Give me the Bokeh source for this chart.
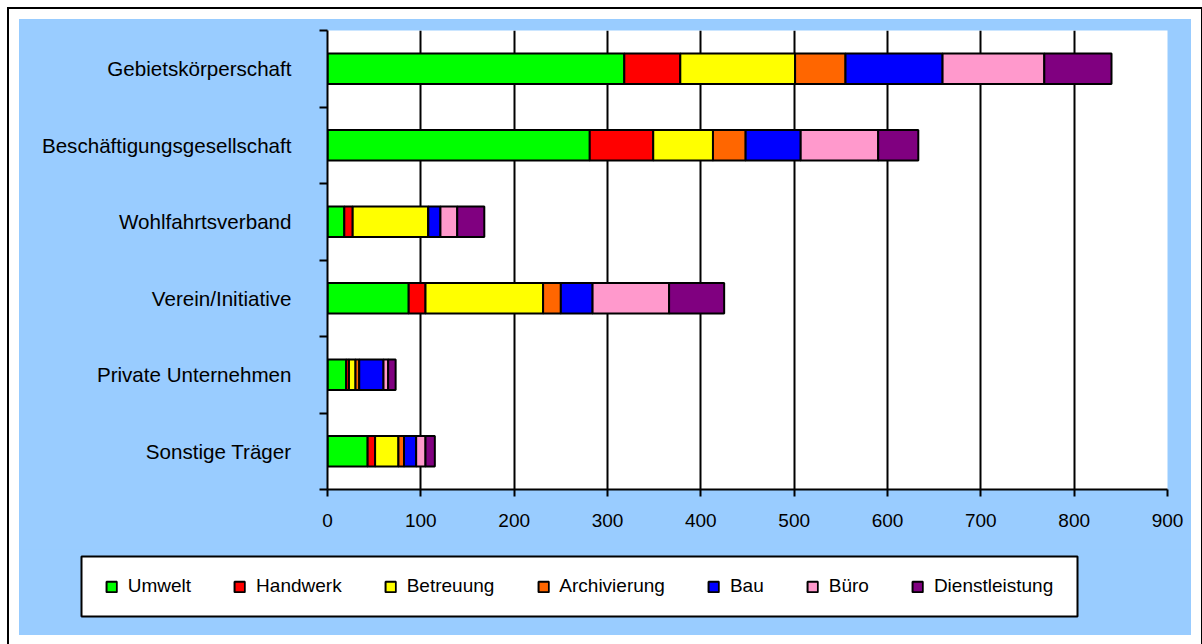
from bokeh.plotting import figure
from bokeh.layouts import column
from bokeh.models import ColumnDataSource, FixedTicker, Legend, LegendItem, Range1d
from bokeh.embed import file_html
from bokeh.resources import INLINE

categories = ["Gebietskörperschaft", "Beschäftigungsgesellschaft", "Wohlfahrtsverband",
              "Verein/Initiative", "Private Unternehmen", "Sonstige Träger"]
series = ["Umwelt", "Handwerk", "Betreuung", "Archivierung", "Bau", "Büro", "Dienstleistung"]
umwelt = [318, 281, 18, 87, 20, 43]
handwerk = [60, 68, 9, 18, 3, 8]
betreuung = [123, 64, 81, 126, 7, 25]
archivierung = [54, 35, 0, 19, 4, 6]
bau = [104, 59, 13, 34, 26, 13]
buero = [109, 83, 18, 82, 5, 10]
dienstleistung = [72, 43, 29, 59, 8, 10]
x_ticks = [0, 100, 200, 300, 400, 500, 600, 700, 800, 900]

colors = ["#00FF00", "#FF0000", "#FFFF00", "#FF6600", "#0000FF", "#FF99CC", "#800080"]
FONT = "Liberation Sans"
BLUE = "#99CCFF"

n = len(categories)
centers = [n - i - 0.5 for i in range(n)]
bounds = list(range(n + 1))

data = dict(y=centers, Umwelt=umwelt, Handwerk=handwerk, Betreuung=betreuung,
            Archivierung=archivierung, Bau=bau, Büro=buero, Dienstleistung=dienstleistung)
source = ColumnDataSource(data)

p = figure(width=1172, height=530, output_backend="svg", toolbar_location=None,
           x_range=Range1d(0, 900), y_range=Range1d(0, n),
           min_border_left=308, min_border_right=24, min_border_top=11, min_border_bottom=60)
p.frame_align = False
p.border_fill_color = BLUE
p.background_fill_color = "white"
p.outline_line_color = None

renderers = p.hbar_stack(series, y="y", height=0.4, color=colors, source=source,
                         line_color="black", line_width=2)

# x axis
p.xaxis.ticker = FixedTicker(ticks=x_ticks)
p.xaxis.axis_line_color = "black"
p.xaxis.axis_line_width = 2
p.xaxis.major_tick_line_color = "black"
p.xaxis.major_tick_line_width = 2
p.xaxis.major_tick_out = 7
p.xaxis.major_tick_in = 0
p.xaxis.minor_tick_line_color = None
p.xaxis.major_label_text_font = FONT
p.xaxis.major_label_text_font_size = "19px"
p.xaxis.major_label_text_color = "black"
p.xaxis.major_label_standoff = 17

# y axis
p.yaxis.ticker = FixedTicker(ticks=centers, minor_ticks=bounds)
p.yaxis.major_label_overrides = {c: cat for c, cat in zip(centers, categories)}
p.yaxis.axis_line_color = "black"
p.yaxis.axis_line_width = 2
p.yaxis.major_tick_out = 0
p.yaxis.major_tick_in = 0
p.yaxis.major_tick_line_color = None
p.yaxis.minor_tick_out = 8
p.yaxis.minor_tick_in = 0
p.yaxis.minor_tick_line_color = "black"
p.yaxis.minor_tick_line_width = 2
p.yaxis.major_label_text_font = FONT
p.yaxis.major_label_text_font_size = "20.6px"
p.yaxis.major_label_text_color = "black"
p.yaxis.major_label_standoff = 28

# grid
p.xgrid.ticker = FixedTicker(ticks=x_ticks)
p.xgrid.grid_line_color = "black"
p.xgrid.grid_line_width = 2
p.ygrid.grid_line_color = None

# legend panel (separate figure so the legend box can sit under the y labels);
# its ranges keep the bars themselves out of view, only the legend is shown
pl = figure(width=1172, height=86, output_backend="svg", toolbar_location=None,
            x_range=Range1d(10000, 10001), y_range=Range1d(100, 101),
            x_axis_location=None, y_axis_location=None,
            min_border_left=62, min_border_right=114, min_border_top=7, min_border_bottom=19)
pl.frame_align = False
pl.border_fill_color = BLUE
pl.background_fill_color = "white"
pl.outline_line_color = "black"
pl.outline_line_width = 2
pl.grid.grid_line_color = None
lrs = pl.hbar_stack(series, y="y", height=0.4, color=colors, source=ColumnDataSource(data),
                    line_color="black", line_width=2)

legend = Legend(items=[LegendItem(label=s, renderers=[r]) for s, r in zip(series, lrs)],
                orientation="horizontal", location="center", margin=0,
                border_line_color=None, background_fill_alpha=0,
                label_text_font=FONT, label_text_font_size="19px", label_text_color="black",
                glyph_width=13, glyph_height=13, label_standoff=10, spacing=42, padding=0)
pl.add_layout(legend)

layout = column(p, pl, spacing=0)
layout.styles = {"margin": "19px 0 0 19px", "outline": "2px solid black",
                 "outline-offset": "10px", "background-color": BLUE}

open("out.html", "w").write(file_html(layout, INLINE))
